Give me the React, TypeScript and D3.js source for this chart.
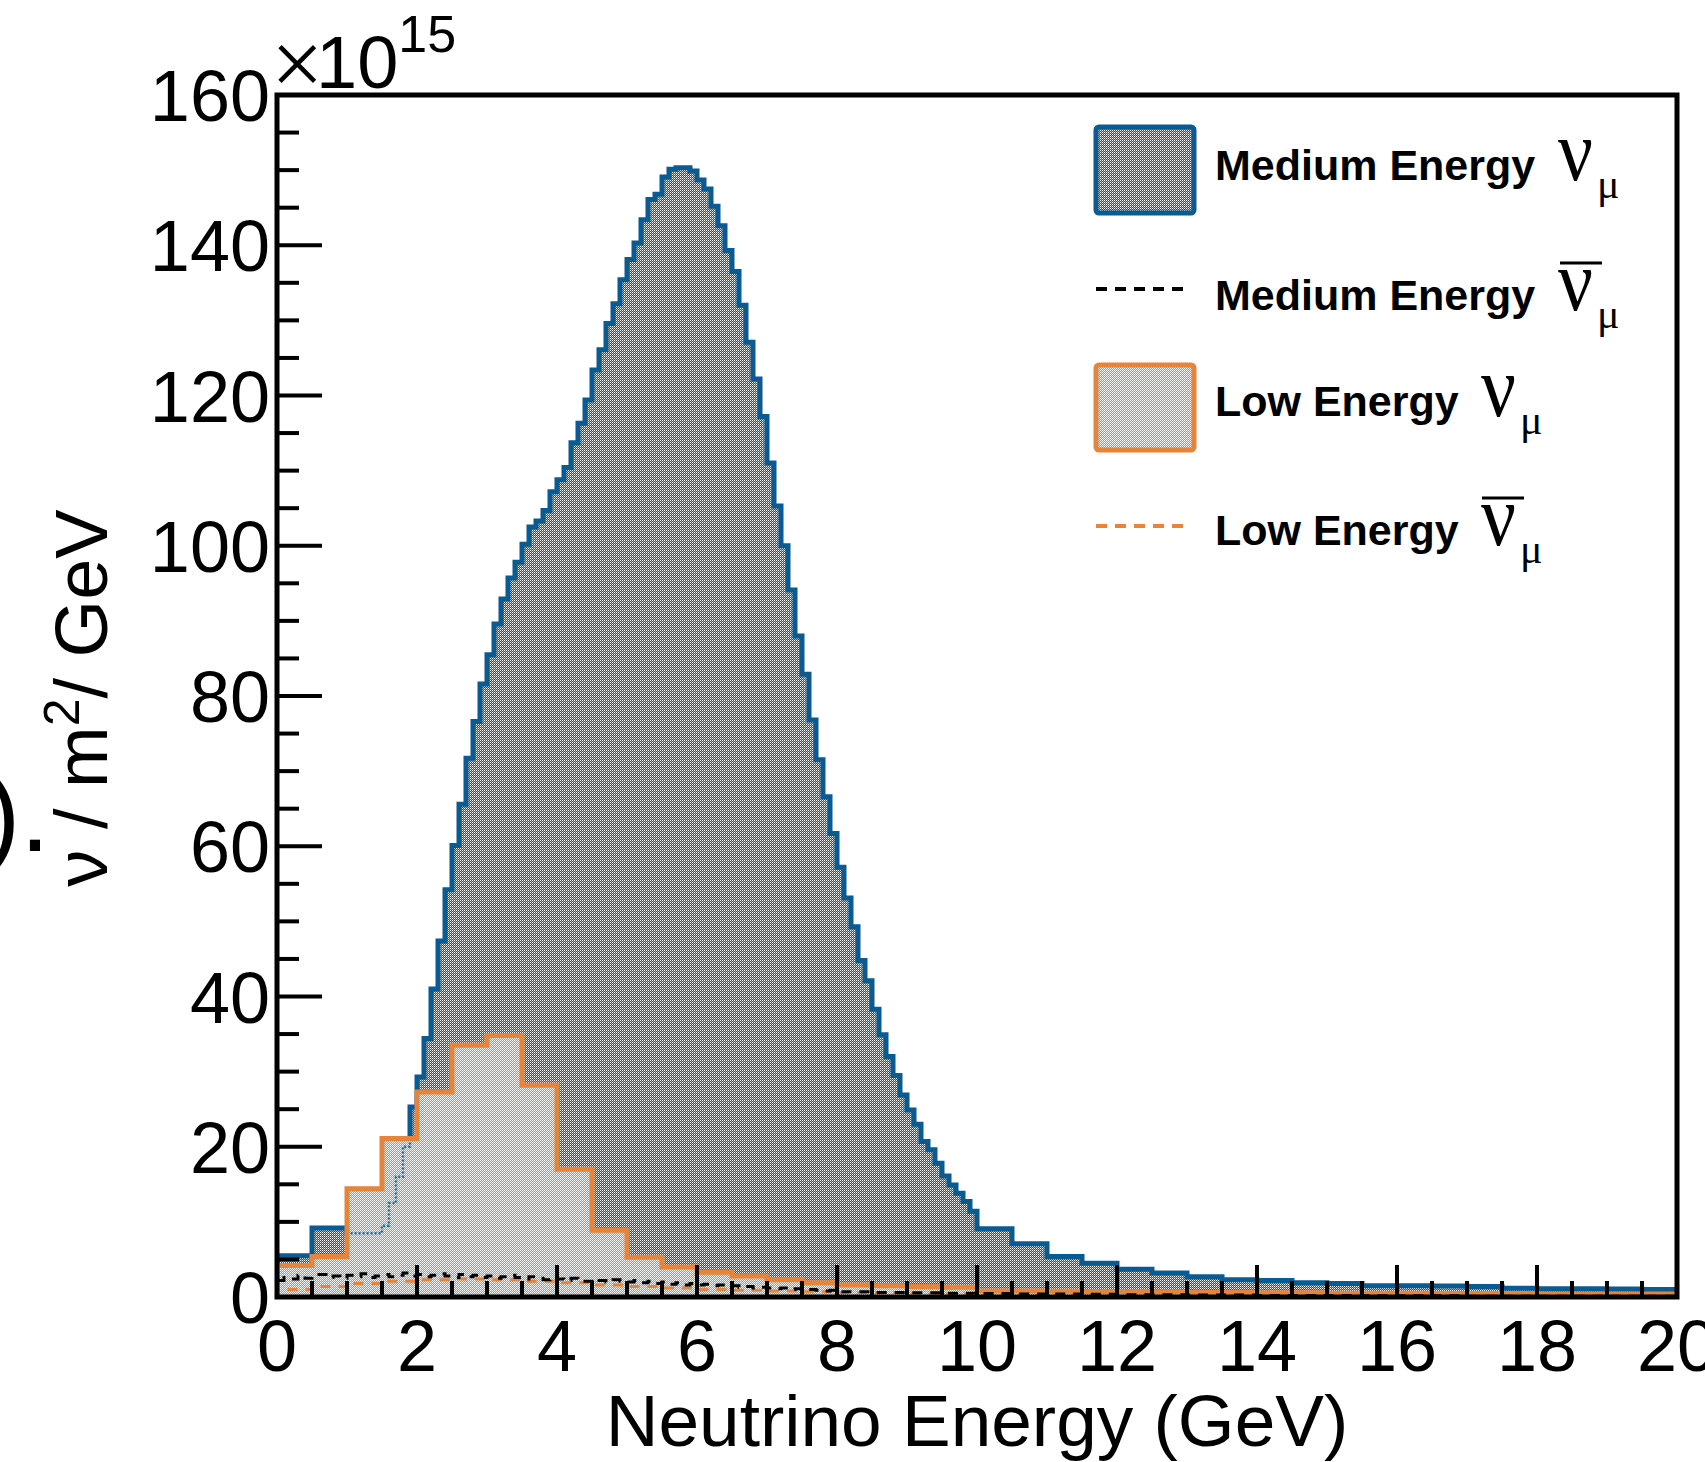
import React from "react";
import * as d3 from "d3";

const W = 1705;
const H = 1462;
const BLUE = "#0a5b92";
const ORANGE = "#e5843a";
const SANS = "'Liberation Sans', Arial, Helvetica, sans-serif";
const SERIF = "'Liberation Serif', 'Times New Roman', serif";

// ---- data (units of 1e15 nu / m^2 / GeV) ----
// bin segments: [from, to, width] in GeV
const meNuBinning = [
  [0, 1.5, 0.5],
  [1.5, 10, 0.1],
  [10, 20, 0.5],
];
const meNuValues = [
  5.5, 9.2, 8.5,
  9.5, 12.5, 16.0, 20.0, 25.3,
  29.3, 34.4, 41.0, 47.4, 54.2, 60.1, 65.6, 71.7, 76.6, 81.6,
  85.5, 89.6, 92.9, 95.7, 97.8, 100.2, 102.5, 103.3, 104.7, 107.2,
  108.8, 110.4, 113.7, 116.3, 119.4, 123.4, 126.1, 129.6, 132.2, 135.4,
  138.1, 140.3, 143.4, 146.1, 146.8, 149.1, 150.1, 150.3, 150.3, 149.9,
  148.7, 147.5, 145.2, 142.6, 139.3, 136.5, 132.0, 127.1, 122.2, 117.2,
  111.0, 105.3, 100.0, 94.1, 88.0, 82.9, 76.8, 71.5, 66.6, 61.7,
  57.2, 53.1, 49.3, 44.8, 42.1, 38.3, 34.9, 32.0, 29.5, 26.9,
  24.9, 23.0, 20.7, 19.6, 17.8, 16.1, 14.9, 13.8, 12.7, 11.4,
  9.1, 7.1, 5.4, 4.5, 3.7, 3.2, 2.7, 2.3, 2.2, 1.9,
  1.8, 1.5, 1.5, 1.45, 1.4, 1.15, 1.1, 1.1, 1.05, 1.0,
];

const meNuBarBinning = [
  [0, 8, 0.1],
  [8, 20, 0.5],
];
const meNuBarValues = [
  2.2, 2.6, 2.4, 2.9, 2.5, 2.7, 3.0, 2.6, 2.8, 2.5,
  2.9, 2.7, 3.1, 2.6, 2.8, 3.0, 2.7, 2.9, 3.2, 2.8,
  3.0, 2.7, 2.9, 3.1, 2.8, 2.6, 3.0, 2.7, 2.9, 2.6,
  2.8, 2.5, 2.7, 2.9, 2.6, 2.4, 2.7, 2.5, 2.3, 2.6,
  2.4, 2.2, 2.5, 2.3, 2.1, 2.4, 2.2, 2.0, 2.3, 2.1,
  2.0, 2.2, 1.9, 2.1, 1.8, 2.0, 1.7, 1.9, 1.6, 1.8,
  1.6, 1.7, 1.5, 1.6, 1.4, 1.5, 1.3, 1.4, 1.2, 1.3,
  1.2, 1.1, 1.2, 1.0, 1.1, 0.9, 1.0, 0.9, 0.8, 0.9,
  0.7, 0.6, 0.55, 0.5, 0.45, 0.4, 0.4, 0.35, 0.3, 0.3, 0.25, 0.25,
  0.2, 0.2, 0.2, 0.15, 0.15, 0.15, 0.1, 0.1, 0.1, 0.1, 0.1, 0.1,
];

const leNuBinning = [[0, 20, 0.5]];
const leNuValues = [
  4.2, 5.4, 14.4, 21.1, 27.3, 33.5, 34.8, 28.2, 17.0, 8.9,
  5.3, 4.0, 3.3, 2.8, 2.3, 1.9, 1.6, 1.5, 1.4, 1.3,
  0.8, 0.8, 0.75, 0.7, 0.7, 0.65, 0.6, 0.6, 0.55, 0.55,
  0.5, 0.5, 0.5, 0.45, 0.45, 0.45, 0.4, 0.4, 0.4, 0.4,
];
const leNuBarBinning = [[0, 20, 0.5]];
const leNuBarValues = [
  1.0, 1.4, 1.8, 2.1, 2.3, 2.4, 2.3, 2.1, 1.9, 1.6,
  1.4, 1.2, 1.0, 0.9, 0.8, 0.7, 0.6, 0.55, 0.5, 0.45,
  0.4, 0.35, 0.35, 0.3, 0.3, 0.3, 0.25, 0.25, 0.25, 0.2,
  0.2, 0.2, 0.2, 0.15, 0.15, 0.15, 0.15, 0.1, 0.1, 0.1,
];

const yTickValues = [0, 20, 40, 60, 80, 100, 120, 140, 160];
const xTickValues = [0, 2, 4, 6, 8, 10, 12, 14, 16, 18, 20];

// ---- layout ----
const X0 = 277, X1 = 1677, Y0 = 1297, Y1 = 95;
const x = d3.scaleLinear().domain([0, 20]).range([X0, X1]);
const y = d3.scaleLinear().domain([0, 160]).range([Y0, Y1]);

function edgesFrom(binning: number[][]) {
  const e: number[] = [];
  binning.forEach(([a, b, w], k) => {
    const n = Math.round((b - a) / w);
    for (let i = 0; i < n; i++) e.push(+(a + i * w).toFixed(6));
    if (k === binning.length - 1) e.push(b);
  });
  return e;
}

function histPoints(binning: number[][], values: number[]) {
  const edges = edgesFrom(binning);
  const pts: [number, number][] = [[edges[0], 0]];
  values.forEach((v, i) => pts.push([edges[i], v]));
  pts.push([edges[edges.length - 1], values[values.length - 1]]);
  pts.push([edges[edges.length - 1], 0]);
  return pts;
}

const stepLine = d3
  .line<[number, number]>()
  .x((d) => x(d[0]))
  .y((d) => y(d[1]))
  .curve(d3.curveStepAfter);

const stepArea = d3
  .area<[number, number]>()
  .x((d) => x(d[0]))
  .y0(y(0))
  .y1((d) => y(d[1]))
  .curve(d3.curveStepAfter);

export default function App() {
  const meNu = histPoints(meNuBinning, meNuValues);
  const meNuBar = histPoints(meNuBarBinning, meNuBarValues);
  const leNu = histPoints(leNuBinning, leNuValues);
  const leNuBar = histPoints(leNuBarBinning, leNuBarValues);

  const yMinor = d3.range(0, 160.001, 5);
  const xMinor = d3.range(0, 20.001, 0.5);

  return (
    <svg
      width={W}
      height={H}
      viewBox={`0 0 ${W} ${H}`}
      style={{ position: "absolute", left: 0, top: 0, display: "block", background: "#fff" }}
    >
      <defs>
        <pattern id="pBlue" width="2" height="2" patternUnits="userSpaceOnUse">
          <rect width="2" height="2" fill={BLUE} shapeRendering="crispEdges" />
          <rect width="1" height="1" fill="#fff" shapeRendering="crispEdges" />
          <rect x="1" y="1" width="1" height="1" fill="#fff" opacity={0.55} shapeRendering="crispEdges" />
        </pattern>
        <pattern id="pOrange" width="2" height="2" patternUnits="userSpaceOnUse">
          <rect width="2" height="2" fill={ORANGE} shapeRendering="crispEdges" />
          <rect width="1" height="1" fill="#fff" shapeRendering="crispEdges" />
          <rect x="1" y="1" width="1" height="1" fill="#fff" shapeRendering="crispEdges" />
        </pattern>
        <clipPath id="frameClip">
          <rect x={X0} y={Y1} width={X1 - X0} height={Y0 - Y1} />
        </clipPath>
        <clipPath id="orangeClip">
          <path d={stepArea(leNu.slice(1, -1)) || ""} />
        </clipPath>
      </defs>

      <rect x={0} y={0} width={W} height={H} fill="#fff" />

      <g clipPath="url(#frameClip)">
        {/* Medium energy nu_mu */}
        <path d={stepArea(meNu.slice(1, -1)) || ""} fill="url(#pBlue)" />
        <path d={stepLine(meNu) || ""} fill="none" stroke={BLUE} strokeWidth={5} />
        {/* Low energy nu_mu */}
        <path d={stepArea(leNu.slice(1, -1)) || ""} fill="url(#pOrange)" />
        <g clipPath="url(#orangeClip)">
          <path
            d={stepLine(meNu) || ""}
            fill="none"
            stroke={BLUE}
            strokeWidth={2.5}
            strokeDasharray="2 2"
            opacity={0.85}
          />
        </g>
        <path d={stepLine(leNu) || ""} fill="none" stroke={ORANGE} strokeWidth={5} />
        {/* anti-neutrinos */}
        <path
          d={stepLine(leNuBar) || ""}
          fill="none"
          stroke={ORANGE}
          strokeWidth={3}
          strokeDasharray="10 8"
        />
        <path
          d={stepLine(meNuBar) || ""}
          fill="none"
          stroke="#000"
          strokeWidth={3}
          strokeDasharray="10 8"
        />
      </g>

      {/* ticks */}
      <g stroke="#000" strokeWidth={4}>
        {yMinor.map((v) => {
          const major = v % 20 === 0;
          return (
            <line key={"yt" + v} x1={X0} x2={X0 + (major ? 45 : 22)} y1={y(v)} y2={y(v)} />
          );
        })}
        {xMinor.map((v) => {
          const major = Math.abs(v % 2) < 1e-9;
          return (
            <line key={"xt" + v} x1={x(v)} x2={x(v)} y1={Y0} y2={Y0 - (major ? 32 : 16)} />
          );
        })}
      </g>

      {/* frame */}
      <rect
        x={X0}
        y={Y1}
        width={X1 - X0}
        height={Y0 - Y1}
        fill="none"
        stroke="#000"
        strokeWidth={5}
      />

      {/* tick labels */}
      <g fontFamily={SANS} fontSize={72} fill="#000">
        {yTickValues.map((v) => (
          <text key={"yl" + v} x={270} y={y(v) + 26} textAnchor="end">
            {v}
          </text>
        ))}
        {xTickValues.map((v) => (
          <text key={"xl" + v} x={x(v)} y={1371} textAnchor="middle">
            {v}
          </text>
        ))}
      </g>

      {/* exponent */}
      <text x={271} y={95} fontFamily={SERIF} fontSize={93} fill="#000">
        ×
      </text>
      <text x={316} y={88} fontFamily={SANS} fontSize={74} fill="#000">
        10
        <tspan fontSize={52} dy={-36}>
          15
        </tspan>
      </text>

      {/* axis titles */}
      <text x={977} y={1446} fontFamily={SANS} fontSize={73} textAnchor="middle" fill="#000">
        Neutrino Energy (GeV)
      </text>
      <text
        transform="translate(107,698) rotate(-90)"
        fontFamily={SANS}
        fontSize={74}
        textAnchor="middle"
        fill="#000"
      >
        ν / m
        <tspan fontSize={50} dy={-28}>
          2
        </tspan>
        <tspan dy={28}>/ GeV</tspan>
      </text>

      {/* clipped fragment at the left edge */}
      <text x={-15} y={851} fontFamily={SANS} fontSize={106} fill="#000">
        ).
      </text>

      {/* legend */}
      <g>
        <rect x={1096} y={127} width={98} height={86} rx={3} fill="url(#pBlue)" stroke={BLUE} strokeWidth={5} />
        <line x1={1096} x2={1186} y1={289} y2={289} stroke="#000" strokeWidth={4} strokeDasharray="11 8" />
        <rect x={1096} y={365} width={98} height={85} rx={3} fill="url(#pOrange)" stroke={ORANGE} strokeWidth={5} />
        <line x1={1096} x2={1186} y1={526} y2={526} stroke={ORANGE} strokeWidth={4} strokeDasharray="11 8" />

        <g fontFamily={SANS} fontWeight="bold" fontSize={43} fill="#000">
          <text x={1215} y={180}>Medium Energy</text>
          <text x={1215} y={310}>Medium Energy</text>
          <text x={1215} y={416}>Low Energy</text>
          <text x={1215} y={545}>Low Energy</text>
        </g>

        <g fontFamily={SERIF} fill="#000">
          <text transform="translate(1558,180) scale(1.25,1.4)" fontSize={62}>ν</text>
          <text x={1597} y={198} fontSize={42}>μ</text>

          <text transform="translate(1558,310) scale(1.25,1.4)" fontSize={62}>ν</text>
          <text x={1597} y={328} fontSize={42}>μ</text>
          <line x1={1560} x2={1602} y1={263} y2={263} stroke="#000" strokeWidth={3} />

          <text transform="translate(1481,416) scale(1.25,1.4)" fontSize={62}>ν</text>
          <text x={1520} y={434} fontSize={42}>μ</text>

          <text transform="translate(1481,545) scale(1.25,1.4)" fontSize={62}>ν</text>
          <text x={1520} y={563} fontSize={42}>μ</text>
          <line x1={1482} x2={1524} y1={498} y2={498} stroke="#000" strokeWidth={3} />
        </g>
      </g>
    </svg>
  );
}
